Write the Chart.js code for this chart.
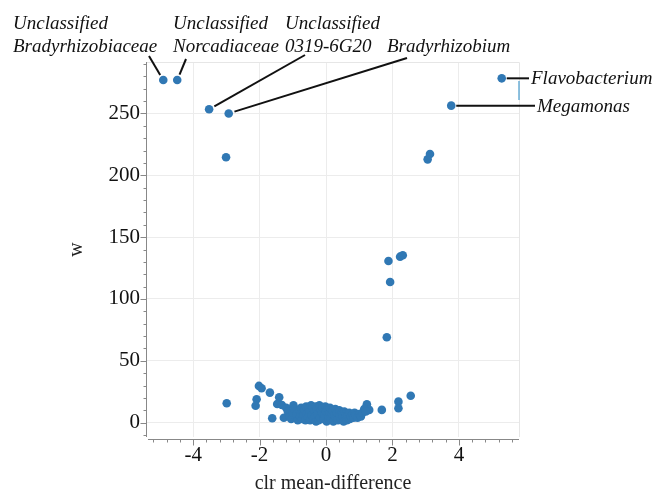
<!DOCTYPE html>
<html>
<head>
<meta charset="utf-8">
<script src="https://cdn.jsdelivr.net/npm/chart.js@4.4.0/dist/chart.umd.min.js"></script>
<style>
  html, body { margin: 0; padding: 0; background: #fff; }
  #wrap { width: 654px; height: 492px; }
</style>
</head>
<body>
<div id="wrap"><canvas id="chart"></canvas></div>
<script>
// labelled taxa
const labeledTaxa = ['Unclassified Bradyrhizobiaceae', 'Unclassified Norcadiaceae', 'Unclassified 0319-6G20', 'Bradyrhizobium', 'Flavobacterium', 'Megamonas'];
const labeledX = [-4.90, -4.48, -3.52, -2.93, 5.29, 3.77];
const labeledW = [277, 277, 253.4, 250, 278.4, 256.3];

// all other taxa (clr mean-difference, W)
const otherX = [
  -3.01, 3.13, 3.06, 1.88, 2.23, 2.31, 1.93, 1.83,
  -2.99, -2.02, -1.94, -2.09, -2.12, -1.69, -1.41, -1.47, -1.33, -1.62, -1.27,
  2.18, 2.18, 2.55, 1.68, 1.23, 1.30,
  -1.20, -1.15, -1.10, -1.05, -1.00, -0.98, -0.95, -0.90, -0.88, -0.85,
  -0.80, -0.78, -0.75, -0.72, -0.70, -0.68, -0.65, -0.62, -0.60, -0.58,
  -0.55, -0.52, -0.50, -0.48, -0.45, -0.43, -0.40, -0.38, -0.35, -0.33,
  -0.30, -0.30, -0.28, -0.25, -0.22, -0.20, -0.18, -0.15, -0.12, -0.10,
  -0.08, -0.05, -0.02, 0.00, 0.02, 0.05, 0.07, 0.08, 0.10, 0.12,
  0.15, 0.18, 0.20, 0.22, 0.25, 0.28, 0.30, 0.33, 0.36, 0.40,
  0.42, 0.45, 0.48, 0.50, 0.53, 0.55, 0.58, 0.60, 0.63, 0.66,
  0.70, 0.72, 0.75, 0.80, 0.83, 0.86, 0.90, 0.95, 1.00, 1.05,
  1.10, 1.15, 1.20
];
const otherW = [
  214.6, 217.2, 212.9, 130.7, 134.2, 135.3, 113.7, 69,
  15.7, 29.7, 27.8, 18.9, 13.7, 24.3, 20.5, 15.1, 14.3, 3.5, 4,
  17, 11.6, 21.8, 10.3, 14.9, 10.3,
  12, 9, 5, 3, 8, 14, 11, 4, 7, 2,
  10, 5, 12, 3, 8, 6, 10, 2, 13, 7,
  4, 11, 9, 2, 14, 6, 12, 3, 9, 5,
  13, 1, 11, 7, 2, 14, 4, 10, 8, 12,
  3, 6, 13, 9, 1, 11, 3, 5, 8, 12,
  3, 7, 10, 1, 6, 11, 4, 8, 2, 10,
  6, 3, 8, 5, 1, 9, 4, 7, 2, 6,
  8, 3, 5, 7, 4, 8, 6, 4, 7, 5,
  8, 11, 9
];

const xTickValues = [-4, -2, 0, 2, 4];
const yTickValues = [0, 50, 100, 150, 200, 250];

// label placement (pixels, outside the plot)
const labelLayout = [
  { lines: ['Unclassified', 'Bradyrhizobiaceae'], textX: 13, anchor: [149, 56] },
  { lines: ['Unclassified', 'Norcadiaceae'], textX: 173, anchor: [186, 59] },
  { lines: ['Unclassified', '0319-6G20'], textX: 285, anchor: [305, 55] },
  { lines: ['Bradyrhizobium'], textX: 387, anchor: [407, 58] },
  { lines: ['Flavobacterium'], textX: 531, side: true },
  { lines: ['Megamonas'], textX: 537, side: true }
];

const points = labeledX.map((v, i) => ({ x: v, y: labeledW[i] }))
  .concat(otherX.map((v, i) => ({ x: v, y: otherW[i] })));

const serif = "'Liberation Serif', 'Times New Roman', serif";

const decorPlugin = {
  id: 'decor',
  beforeDatasetsDraw(chart) {
    const { ctx, chartArea: a } = chart;
    ctx.save();
    ctx.strokeStyle = '#e6e6e6';
    ctx.lineWidth = 1;
    ctx.beginPath();
    ctx.moveTo(a.left, a.top + 0.5);
    ctx.lineTo(a.right + 0.5, a.top + 0.5);
    ctx.lineTo(a.right + 0.5, a.bottom);
    ctx.stroke();
    ctx.restore();
  },
  afterDraw(chart) {
    const { ctx, chartArea: a, scales: { x, y } } = chart;
    ctx.save();
    ctx.strokeStyle = '#888';
    ctx.lineWidth = 1;
    // y axis + ticks
    ctx.beginPath();
    ctx.moveTo(a.left - 0.5, a.top);
    ctx.lineTo(a.left - 0.5, a.bottom);
    for (let v = -10; v <= 290; v += 10) {
      const py = Math.round(y.getPixelForValue(v)) + 0.5;
      const len = v % 50 === 0 ? 6 : 3;
      ctx.moveTo(a.left - 0.5, py);
      ctx.lineTo(a.left - 0.5 - len, py);
    }
    // x axis + ticks (axis sits a little below the plot)
    const ax = a.bottom + 2.5;
    ctx.moveTo(a.left + 1, ax);
    ctx.lineTo(a.right, ax);
    for (let k = -13; k <= 14; k++) {
      const v = k * 0.4;
      const px = Math.round(x.getPixelForValue(v)) + 0.5;
      if (px < a.left + 1 || px > a.right) continue;
      const len = k % 5 === 0 ? 6 : 3;
      ctx.moveTo(px, ax);
      ctx.lineTo(px, ax + len);
    }
    ctx.stroke();

    // odd little leader fragment at the plot edge
    ctx.strokeStyle = '#6aaed6';
    ctx.lineWidth = 1.5;
    ctx.beginPath();
    ctx.moveTo(a.right, 81);
    ctx.lineTo(a.right, 100);
    ctx.stroke();

    // labels
    ctx.strokeStyle = '#111';
    ctx.fillStyle = '#111';
    ctx.lineWidth = 2;
    ctx.font = 'italic 19px ' + serif;
    ctx.textBaseline = 'alphabetic';
    ctx.textAlign = 'left';
    labelLayout.forEach((lab, i) => {
      const px = x.getPixelForValue(labeledX[i]);
      const py = y.getPixelForValue(labeledW[i]);
      if (lab.side) {
        ctx.beginPath();
        ctx.moveTo(px + 5, py);
        ctx.lineTo(lab.textX - 2, py);
        ctx.stroke();
        ctx.fillText(lab.lines[0], lab.textX, py + 6);
      } else {
        const [ax0, ay0] = lab.anchor;
        const dx = px - ax0, dy = py - ay0;
        const d = Math.hypot(dx, dy);
        const t = (d - 6) / d;
        ctx.beginPath();
        ctx.moveTo(ax0, ay0);
        ctx.lineTo(ax0 + dx * t, ay0 + dy * t);
        ctx.stroke();
        const base = lab.lines.length === 2 ? 29 : 52;
        lab.lines.forEach((s, j) => ctx.fillText(s, lab.textX, base + j * 23));
      }
    });
    ctx.restore();
  }
};

new Chart(document.getElementById('chart'), {
  type: 'scatter',
  data: {
    datasets: [{
      data: points,
      backgroundColor: '#3078b4',
      borderWidth: 0,
      pointRadius: 4.3,
      pointHoverRadius: 4.3
    }]
  },
  options: {
    responsive: true,
    maintainAspectRatio: false,
    animation: false,
    layout: { padding: { top: 62, right: 135, left: 0, bottom: 0 } },
    plugins: { legend: { display: false }, tooltip: { enabled: false } },
    scales: {
      x: {
        type: 'linear',
        min: -5.39,
        max: 5.81,
        afterBuildTicks: s => { s.ticks = xTickValues.map(v => ({ value: v })); },
        afterFit: s => { s.height = 55; },
        border: { display: false },
        grid: { color: '#ececec', drawTicks: false },
        ticks: {
          padding: 6,
          color: '#111',
          font: { family: serif, size: 21 },
          callback: v => String(v)
        },
        title: {
          display: true,
          text: 'clr mean-difference',
          color: '#222',
          font: { family: serif, size: 20, lineHeight: 0.8 },
          padding: { top: 0, bottom: 0 }
        }
      },
      y: {
        type: 'linear',
        min: -11.6,
        max: 291.6,
        afterBuildTicks: s => { s.ticks = yTickValues.map(v => ({ value: v })); },
        afterFit: s => { s.width = 147; },
        border: { display: false },
        grid: { color: '#ececec', drawTicks: false },
        ticks: {
          padding: 7,
          color: '#111',
          font: { family: serif, size: 21 },
          callback: v => String(v)
        },
        title: {
          display: true,
          text: 'w',
          color: '#222',
          font: { family: serif, size: 20, lineHeight: 1 },
          padding: { top: 67, bottom: 0 }
        }
      }
    }
  },
  plugins: [decorPlugin]
});
</script>
</body>
</html>
